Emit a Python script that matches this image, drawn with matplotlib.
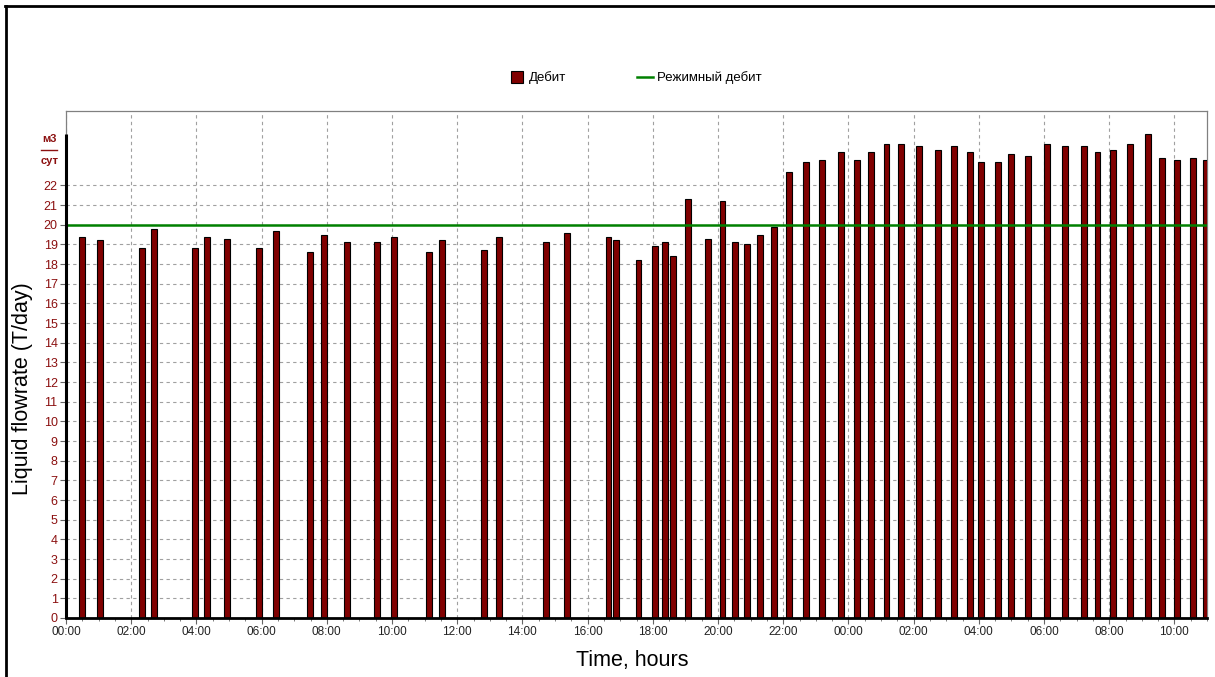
import matplotlib
matplotlib.use("Agg")
import matplotlib.pyplot as plt
from matplotlib.lines import Line2D
from matplotlib.ticker import MultipleLocator

plt.rcParams['font.family'] = ['Liberation Sans', 'DejaVu Sans']

# Time of each measurement, hours from start (00:00 of day 1)
times = [0.50, 1.05, 2.34, 2.70, 3.95, 4.32, 4.94, 5.93, 6.45, 7.49,
         7.92, 8.62, 9.54, 10.05, 11.13, 11.53, 12.82, 13.29, 14.72, 15.36,
         16.64, 16.87, 17.56, 18.07, 18.38, 18.62, 19.08, 19.69, 20.14, 20.51,
         20.90, 21.28, 21.72, 22.19, 22.71, 23.18, 23.77, 24.26, 24.69, 25.17,
         25.61, 26.16, 26.75, 27.24, 27.74, 28.08, 28.59, 29.00, 29.51, 30.10,
         30.65, 31.24, 31.64, 32.11, 32.63, 33.19, 33.63, 34.07, 34.56, 34.96]
# Liquid flowrate (Дебит)
flow = [19.4, 19.2, 18.8, 19.8, 18.8, 19.4, 19.3, 18.8, 19.7, 18.6,
        19.5, 19.1, 19.1, 19.4, 18.6, 19.2, 18.7, 19.4, 19.1, 19.6,
        19.4, 19.2, 18.2, 18.9, 19.1, 18.4, 21.3, 19.3, 21.2, 19.1,
        19.0, 19.5, 19.9, 22.7, 23.2, 23.3, 23.7, 23.3, 23.7, 24.1,
        24.1, 24.0, 23.8, 24.0, 23.7, 23.2, 23.2, 23.6, 23.5, 24.1,
        24.0, 24.0, 23.7, 23.8, 24.1, 24.6, 23.4, 23.3, 23.4, 23.3]
regime_flow = 20.0  # Режимный дебит

x_ticks = list(range(0, 35, 2))
x_tick_labels = [f"{h % 24:02d}:00" for h in x_ticks]
y_ticks = list(range(0, 23))

maroon = '#800000'
label_red = '#8b1010'

fig = plt.figure(figsize=(12.15, 6.77), dpi=100)
ax = fig.add_axes([66 / 1215, 59 / 677, 1141 / 1215, (618 - 110.7) / 677])

ax.bar(times, flow, width=0.18, color=maroon, edgecolor='black', linewidth=0.8,
       zorder=3, clip_on=True)
ax.axhline(regime_flow, color='#008000', lw=1.8, zorder=4)

ax.set_xlim(0, 35)
ax.set_ylim(0, 25.8)
ax.set_xticks(x_ticks)
ax.set_xticklabels(x_tick_labels, fontsize=8.5, color='#222222')
ax.xaxis.set_minor_locator(MultipleLocator(0.5))
ax.set_yticks(y_ticks)
ax.set_yticklabels([str(v) for v in y_ticks], fontsize=9, color=label_red)
ax.tick_params(axis='both', which='major', length=4, width=0.8, color='#666666', pad=2)
ax.tick_params(axis='x', which='minor', length=2, width=0.6, color='#666666')
ax.grid(True, which='major', color='#a0a0a0', linestyle=(0, (3, 3)), linewidth=0.8, zorder=0)

for s in ['top', 'right', 'left']:
    ax.spines[s].set_color('#808080')
    ax.spines[s].set_linewidth(0.9)
ax.spines['bottom'].set_color('black')
ax.spines['bottom'].set_linewidth(2.0)
ax.spines['bottom'].set_zorder(5)
# thick left axis line up to the data maximum
ax.plot([0, 0], [0, max(flow)], color='black', lw=2.2, clip_on=False, zorder=5,
        solid_capstyle='butt')

ax.set_xlabel('Time, hours', fontsize=15.5, va='center')
ax.xaxis.set_label_coords(0.496, -0.083)
ax.set_ylabel('Liquid flowrate (T/day)', fontsize=15.5, va='center')
ax.yaxis.set_label_coords(-0.0377, 0.453)

# units label above y ticks
ax.text(-0.0145, 24.35, 'м3', transform=ax.get_yaxis_transform(), ha='center',
        va='center', fontsize=8, fontweight='bold', color=label_red)
ax.text(-0.0145, 23.25, 'сут', transform=ax.get_yaxis_transform(), ha='center',
        va='center', fontsize=8, fontweight='bold', color=label_red)
ax.add_line(Line2D([-0.0215, -0.0075], [23.8, 23.8], transform=ax.get_yaxis_transform(),
                   color=label_red, lw=1.0, clip_on=False))

handles = [Line2D([0], [0], marker='s', markersize=8.5, markerfacecolor=maroon,
                  markeredgecolor='black', markeredgewidth=0.8, linestyle='None',
                  label='Дебит'),
           Line2D([0], [0], color='#008000', lw=1.8, label='Режимный дебит')]
fig.legend(handles=handles, loc='center', bbox_to_anchor=(0.523, 0.8848), ncol=2,
           frameon=False, fontsize=9.5, handlelength=1.15,
           handletextpad=0.35, columnspacing=5.4)

# outer figure border (left and top)
fig.add_artist(Line2D([6 / 1215, 6 / 1215], [0, 1 - 6 / 677], transform=fig.transFigure,
                      color='black', lw=2.0))
fig.add_artist(Line2D([5 / 1215, 1], [1 - 6 / 677, 1 - 6 / 677], transform=fig.transFigure,
                      color='black', lw=2.0))

fig.savefig('out.png', dpi=100, facecolor='white')
